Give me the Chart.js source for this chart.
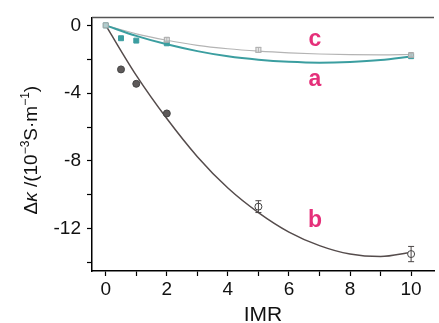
<!DOCTYPE html>
<html>
<head>
<meta charset="utf-8">
<script src="https://cdn.jsdelivr.net/npm/chart.js@4"></script>
<style>
  html, body { margin: 0; background: #fff; }
  #wrap { width: 439px; height: 323px; }
</style>
</head>
<body>
<div id="wrap"><canvas id="chart"></canvas></div>
<script>
// measured points
const imrA = [0, 0.5, 1, 2, 10];
const kappaA = [0, -0.76, -0.9, -1.06, -1.82];

const imrB = [0.5, 1, 2, 5, 10];
const kappaB = [-2.6, -3.45, -5.2, -10.7, -13.5];
const errB = [0, 0, 0, 0.35, 0.45];
const openB = [false, false, false, true, true];

const imrC = [0, 2, 5, 10];
const kappaC = [0, -0.85, -1.45, -1.75];
const errC = [0, 0.12, 0.15, 0.1];

// fitted curves
const fitX = [0, 1, 2, 3, 4, 5, 6, 7, 8, 9, 10];
const fitA = [0, -0.62, -1.12, -1.52, -1.83, -2.03, -2.15, -2.2, -2.16, -2.05, -1.84];
const fitB = [0, -2.95, -5.5, -7.75, -9.6, -11.05, -12.2, -13.0, -13.5, -13.65, -13.4];
const fitC = [0, -0.5, -0.88, -1.18, -1.38, -1.52, -1.62, -1.69, -1.73, -1.74, -1.72];

// curve labels (data coordinates)
const curveNames = ['c', 'a', 'b'];
const nameX = [6.85, 6.85, 6.85];
const nameY = [-0.85, -3.2, -11.5];

const xTicks = [0, 1, 2, 3, 4, 5, 6, 7, 8, 9, 10];
const xLabels = [0, 2, 4, 6, 8, 10];
const yTicks = [0, -2, -4, -6, -8, -10, -12, -14];
const yLabels = [0, -4, -8, -12];

// y title pieces: [text, style]
const yTitleParts = [
  ['Δ', 'n'], ['κ', 'i'], [' /(10', 'n'], ['−3', 's'], ['S·m', 'n'], ['−1', 's'], [')', 'n'],
];

const TEAL = '#3b9ea0';
const DARK = '#4a4545';
const LIGHT = '#b4b4b4';
const PINK = '#e5307a';
const FAMILY = '"Liberation Sans", Arial, sans-serif';

const pts = (xs, ys) => xs.map((x, i) => ({ x: x, y: ys[i] }));

const extras = {
  id: 'extras',
  beforeDatasetsDraw(chart) {
    const ctx = chart.ctx;
    const a = chart.chartArea;
    ctx.save();
    ctx.strokeStyle = '#555';
    ctx.lineWidth = 1.5;
    ctx.beginPath();
    ctx.moveTo(a.left, a.top);
    ctx.lineTo(a.right, a.top);
    ctx.stroke();
    ctx.restore();
  },
  afterDatasetsDraw(chart) {
    const ctx = chart.ctx;
    const sx = chart.scales.x;
    const sy = chart.scales.y;
    const bars = (xs, ys, es, color) => {
      ctx.strokeStyle = color;
      ctx.lineWidth = 1;
      xs.forEach((x, i) => {
        if (!es[i]) return;
        const px = sx.getPixelForValue(x);
        const top = sy.getPixelForValue(ys[i] + es[i]);
        const bot = sy.getPixelForValue(ys[i] - es[i]);
        ctx.beginPath();
        ctx.moveTo(px, top); ctx.lineTo(px, bot);
        ctx.moveTo(px - 3, top); ctx.lineTo(px + 3, top);
        ctx.moveTo(px - 3, bot); ctx.lineTo(px + 3, bot);
        ctx.stroke();
      });
    };
    ctx.save();
    bars(imrB, kappaB, errB, DARK);
    bars(imrC, kappaC, errC, LIGHT);
    ctx.font = 'bold 23px ' + FAMILY;
    ctx.fillStyle = PINK;
    ctx.textAlign = 'center';
    ctx.textBaseline = 'middle';
    curveNames.forEach((n, i) => {
      ctx.fillText(n, sx.getPixelForValue(nameX[i]), sy.getPixelForValue(nameY[i]));
    });
    ctx.restore();
  },
  afterDraw(chart) {
    // rotated y-axis title with real superscripts
    const ctx = chart.ctx;
    const a = chart.chartArea;
    const fonts = { n: '19px ' + FAMILY, i: 'italic 19px ' + FAMILY, s: '12px ' + FAMILY };
    let total = 0;
    yTitleParts.forEach(([t, s]) => { ctx.font = fonts[s]; total += ctx.measureText(t).width; });
    ctx.save();
    ctx.translate(37, (a.top + a.bottom) / 2 + 6);
    ctx.rotate(-Math.PI / 2);
    ctx.fillStyle = '#111';
    ctx.textBaseline = 'alphabetic';
    ctx.textAlign = 'left';
    let x = -total / 2;
    yTitleParts.forEach(([t, s]) => {
      ctx.font = fonts[s];
      ctx.fillText(t, x, s === 's' ? -8 : 0);
      x += ctx.measureText(t).width;
    });
    ctx.restore();
  }
};

const tickFont = { family: FAMILY, size: 19 };

new Chart(document.getElementById('chart'), {
  type: 'scatter',
  plugins: [extras],
  data: {
    datasets: [
      { data: pts(fitX, fitC), showLine: true, borderColor: LIGHT, borderWidth: 1.2,
        pointRadius: 0, cubicInterpolationMode: 'monotone', order: 3 },
      { data: pts(fitX, fitA), showLine: true, borderColor: TEAL, borderWidth: 2,
        pointRadius: 0, cubicInterpolationMode: 'monotone', order: 2 },
      { data: pts(fitX, fitB), showLine: true, borderColor: '#554c4c', borderWidth: 1.5,
        pointRadius: 0, cubicInterpolationMode: 'monotone', order: 2 },
      { data: pts(imrA, kappaA), pointStyle: 'rect', pointRadius: 3.5,
        backgroundColor: TEAL, borderColor: TEAL, borderWidth: 1, order: 1 },
      { data: pts(imrC, kappaC), pointStyle: 'rect', pointRadius: 3.5,
        backgroundColor: 'rgba(225,225,225,0.7)', borderColor: '#a8a8a8', borderWidth: 1, order: 0 },
      { data: pts(imrB, kappaB), pointStyle: 'circle', pointRadius: 3.5,
        backgroundColor: openB.map(o => o ? '#fff' : '#5e5a5a'), borderColor: '#444',
        borderWidth: 1, order: 0 },
    ],
  },
  options: {
    animation: false,
    responsive: true,
    maintainAspectRatio: false,
    layout: { padding: { top: 16, right: 0, left: 0, bottom: 0 } },
    plugins: { legend: { display: false }, tooltip: { enabled: false } },
    scales: {
      x: {
        type: 'linear',
        min: -0.45,
        max: 10.75,
        afterBuildTicks: (scale) => { scale.ticks = xTicks.map(v => ({ value: v })); },
        afterFit: (scale) => { scale.height = 52; },
        grid: { drawOnChartArea: false, tickLength: 5, tickColor: '#000', tickWidth: 1.2 },
        border: { color: '#000', width: 1.5 },
        ticks: {
          color: '#111', font: tickFont, padding: 2, maxRotation: 0, autoSkip: false,
          callback: (v) => xLabels.includes(v) ? String(v) : '',
        },
        title: {
          display: true, text: 'IMR', color: '#111',
          font: { family: FAMILY, size: 21, lineHeight: 1 },
          padding: { top: 0, bottom: -3 },
        },
      },
      y: {
        type: 'linear',
        min: -14.5,
        max: 0.47,
        afterBuildTicks: (scale) => { scale.ticks = yTicks.map(v => ({ value: v })); },
        afterFit: (scale) => { scale.width = 92; },
        grid: { drawOnChartArea: false, tickLength: 5, tickColor: '#000', tickWidth: 1.2 },
        border: { color: '#000', width: 1.5 },
        ticks: {
          color: '#111', font: tickFont, padding: 6, autoSkip: false,
          callback: (v) => yLabels.includes(v) ? String(v) : '',
        },
      },
    },
  },
});
</script>
</body>
</html>
